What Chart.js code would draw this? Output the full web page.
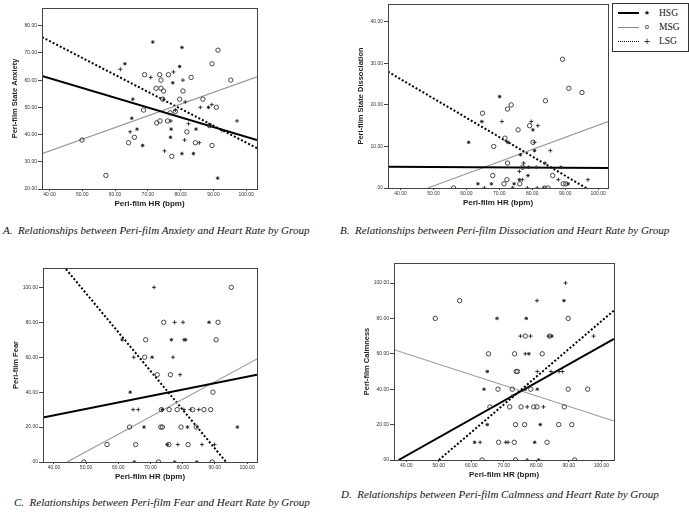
<!DOCTYPE html>
<html>
<head>
<meta charset="utf-8">
<script src="https://cdn.jsdelivr.net/npm/chart.js@4.4.0/dist/chart.umd.min.js"></script>
<style>
  body { margin: 0; background: #fff; width: 689px; height: 512px; position: relative; overflow: hidden; }
  .panel { position: absolute; }
  .cap { position: absolute; font: italic 11px "Liberation Serif", serif; color: #111; white-space: pre; }
  .legend { position: absolute; left: 612px; top: 3px; width: 75px; height: 47px; border: 1px solid #333; background: #fff;
            font: 9.5px "Liberation Serif", serif; color: #111; }
  .row { position: absolute; left: 0; width: 75px; height: 12px; }
  .row .ln { position: absolute; left: 5px; width: 21px; top: 6px; }
  .row .sym { position: absolute; left: 30px; top: 0; width: 8px; text-align: center; font: 7px "DejaVu Sans", sans-serif; line-height: 12px; }
  .row .tx { position: absolute; left: 46px; top: 0; line-height: 12px; }
</style>
</head>
<body>

<div class="panel" id="pA"><canvas id="cA"></canvas></div>
<div class="panel" id="pB"><canvas id="cB"></canvas></div>
<div class="panel" id="pC"><canvas id="cC"></canvas></div>
<div class="panel" id="pD"><canvas id="cD"></canvas></div>

<div class="legend">
  <div class="row" style="top:3px"><div class="ln" style="border-top:2px solid #000;top:5px"></div><div class="sym">&#9733;</div><div class="tx">HSG</div></div>
  <div class="row" style="top:17px"><div class="ln" style="border-top:1px solid #888"></div><div class="sym">o</div><div class="tx">MSG</div></div>
  <div class="row" style="top:31px"><div class="ln" style="border-top:1px dotted #000"></div><div class="sym" style="font-size:9px">+</div><div class="tx">LSG</div></div>
</div>

<div class="cap" style="left:3px;top:224px">A.  Relationships between Peri-film Anxiety and Heart Rate by Group</div>
<div class="cap" style="left:340px;top:224px">B.  Relationships between Peri-film Dissociation and Heart Rate by Group</div>
<div class="cap" style="left:14px;top:496px">C.  Relationships between Peri-film Fear and Heart Rate by Group</div>
<div class="cap" style="left:341px;top:488px">D.  Relationships between Peri-film Calmness and Heart Rate by Group</div>

<script>
// tick values
const xTicks = [40, 50, 60, 70, 80, 90, 100];
const yTicksA = [20, 30, 40, 50, 60, 70, 80];
const yTicksB = [0, 10, 20, 30, 40];
const yTicksCD = [0, 20, 40, 60, 80, 100];

// axis ranges [min, max]
const xRangeA = [37.7, 103.3], yRangeA = [20, 86.5];
const xRangeB = [36.2, 103.0], yRangeB = [0, 44.3];
const xRangeC = [36.6, 103.1], yRangeC = [0, 111.1];
const xRangeD = [36.2, 103.9], yRangeD = [0, 111.3];

// A. anxiety
const hsgA = [[71.5,74],[80.4,72],[63,66],[79.7,65],[77.6,59],[65.4,53],[65.1,46],[66.7,42],[68.4,36],[77.1,42],[76.9,39],[80.4,33],[83.9,33],[84.7,42],[88.5,50],[88.8,43.6],[91.3,24]];
const msgA = [[49.9,38],[57.2,25],[64.1,37],[65.9,39],[68.7,49],[69,62],[73.6,62],[76.3,62],[74,60],[72.5,57],[74,57],[74.8,56],[74.5,53],[72.7,44.3],[73.7,45],[76,45],[76.8,48],[78.4,48.5],[79.7,53],[80.7,56],[83.2,61],[81.9,41],[77.3,32],[84.5,37],[86.8,53],[88.8,43.3],[90.9,50],[89.6,66],[91.4,71],[95.3,60],[89.6,36]];
const lsgA = [[61.6,64],[70.9,61],[77.8,63],[80.7,60],[74.8,53],[64.6,41],[77,45],[75.1,34],[81.2,38],[82.4,44],[85.7,37],[86,50],[89.5,51],[92.6,41.5],[97.2,45],[81.4,52],[78.4,49]];
const fitHsgA = [[37.7,61.5],[103.3,38]];
const fitMsgA = [[37.7,33],[103.3,61.2]];
const fitLsgA = [[37.7,75.8],[103.3,35]];

// B. dissociation
const hsgB = [[70.1,22],[64.7,16],[60.7,11],[72.6,11],[80.2,14],[80.7,9],[76.4,8],[78.9,5],[78.7,3],[88.7,5],[76.1,2],[63.5,1],[67.6,1],[74.5,1],[90.9,1],[74,0]];
const msgB = [[89.2,31],[91.1,24],[95.1,23],[84,21],[73.6,20],[72.5,19],[64.9,18],[75.7,14],[79.2,15],[71.7,12],[68.3,10],[80.2,11],[72.5,6],[77.1,5],[68,3],[86.2,3],[72.3,2],[71.4,1],[76.2,1],[89.4,1],[90.2,1],[56.1,0],[83.8,0],[84.8,0]];
const lsgB = [[70.8,16],[79.7,16],[81.7,15],[80.7,11],[85.5,9],[77.4,6],[76.1,4],[81.2,5],[83.9,6],[87.9,2],[77,2],[96.9,2],[65.5,0],[78.5,0],[81.5,0],[83.5,0]];
const fitHsgB = [[36.2,5.1],[103,4.8]];
const fitMsgB = [[48.3,0],[103,16]];
const fitLsgB = [[36.2,28],[103,-3.1]];

// C. fear
const hsgC = [[88.2,80],[76.5,70],[80.9,70],[61.2,70],[70.5,60],[63.7,40],[73.7,30],[68,20],[81.5,20],[97,20],[75.2,10],[65,0],[77.5,0],[84.4,0]];
const msgC = [[95.1,100],[74.1,80],[91,80],[68.5,70],[90.4,70],[68.2,60],[72.1,50],[76.2,50],[89.4,40],[73.4,30],[75.8,30],[78.3,30],[83.1,30],[86.6,30],[88.7,30],[63.5,20],[73.2,20],[73.7,20],[79.5,20],[84.2,20],[56.5,10],[65.4,10],[75.7,10],[81.7,10],[49.3,0],[72.5,0],[89.2,0]];
const lsgC = [[71.1,100],[77.5,80],[80.1,80],[80.4,70],[64.8,60],[77,60],[79.2,50],[64.6,30],[66.2,30],[80.4,30],[82.4,30],[85,30],[78.5,10],[86,10],[89.9,10]];
const fitHsgC = [[36.6,25.5],[103.1,50]];
const fitMsgC = [[44.1,0],[103.1,59]];
const fitLsgC = [[36.6,126.3],[103.1,-21.3]];

// D. calmness
const hsgD = [[88.5,90],[67.9,80],[76.9,80],[84.8,70],[77.7,60],[64.9,50],[63.9,40],[80.3,40],[76.6,40],[72.6,36],[64.9,20],[81.2,20],[61,10],[79.5,10],[80.7,0]];
const msgD = [[56.4,90],[48.9,80],[89.8,80],[76.6,70],[84.1,70],[65.3,60],[73.3,60],[81.8,60],[73.8,50],[74.2,50],[68.2,40],[72.6,40],[78.3,40],[89.8,40],[95.8,40],[65.7,30],[71.8,30],[75.3,30],[79.2,30],[80.2,30],[88.6,30],[73.6,20],[76.4,20],[86.9,20],[90.9,20],[68.4,10],[73.2,10],[83.3,10],[63.3,0],[73.6,0],[91.8,0]];
const lsgD = [[89,100],[80.2,90],[75.1,70],[78.2,70],[83.8,70],[97.6,70],[76.6,60],[80.3,50],[84.5,50],[87,50],[88,50],[77.2,30],[82.2,30],[62.7,10],[70.6,10],[71.3,10],[77.2,0]];
const fitHsgD = [[37.6,0],[103.9,68.5]];
const fitMsgD = [[36.2,62.3],[103.9,22]];
const fitLsgD = [[50,0],[103.9,84.5]];

const Y_W = 42, X_H = 26, PAD_T = 5, PAD_R = 5;

function fmt(v) {
    const s = Number(v).toFixed(2);
    return s.startsWith('0') ? s.slice(1) : s;
}
function pts(arr) {
    return arr.map(p => ({ x: p[0], y: p[1] }));
}

const framePlugin = {
    id: 'frame',
    afterDatasetsDraw(chart) {
        const a = chart.chartArea, c = chart.ctx;
        c.save();
        c.strokeStyle = '#444';
        c.lineWidth = 1;
        c.strokeRect(Math.round(a.left) + 0.5, Math.round(a.top) + 0.5, Math.round(a.right - a.left), Math.round(a.bottom - a.top));
        c.restore();
    }
};

function makePanel(id, box, xRange, yRange, yTicks, yTitle, hsg, msg, lsg, fitH, fitM, fitL) {
    const w = box.r - box.l + Y_W + PAD_R;
    const h = box.b - box.t + PAD_T + X_H;
    const wrap = document.getElementById('p' + id);
    wrap.style.left = (box.l - Y_W) + 'px';
    wrap.style.top = (box.t - PAD_T) + 'px';
    const cv = document.getElementById('c' + id);
    cv.width = w; cv.height = h;
    cv.style.width = w + 'px'; cv.style.height = h + 'px';

    new Chart(cv.getContext('2d'), {
        type: 'scatter',
        data: {
            datasets: [
                { label: 'HSG', data: pts(hsg), pointStyle: 'star', pointRadius: 1.8, borderColor: '#222', backgroundColor: '#222', borderWidth: 0.9 },
                { label: 'MSG', data: pts(msg), pointStyle: 'circle', pointRadius: 2.2, borderColor: '#333', backgroundColor: 'rgba(0,0,0,0)', borderWidth: 0.9 },
                { label: 'LSG', data: pts(lsg), pointStyle: 'cross', pointRadius: 2, borderColor: '#222', backgroundColor: '#222', borderWidth: 0.9 },
                { label: 'HSG fit', data: pts(fitH), showLine: true, pointRadius: 0, borderColor: '#000', borderWidth: 2 },
                { label: 'MSG fit', data: pts(fitM), showLine: true, pointRadius: 0, borderColor: '#999', borderWidth: 1.1 },
                { label: 'LSG fit', data: pts(fitL), showLine: true, pointRadius: 0, borderColor: '#000', borderWidth: 2, borderDash: [2, 2] }
            ]
        },
        options: {
            responsive: false,
            animation: false,
            layout: { padding: { left: 0, top: PAD_T, right: PAD_R, bottom: 0 } },
            scales: {
                x: {
                    type: 'linear',
                    min: xRange[0],
                    max: xRange[1],
                    afterBuildTicks: (s) => { s.ticks = xTicks.map(v => ({ value: v })); },
                    afterFit: (s) => { s.height = X_H; },
                    ticks: {
                        callback: (v) => fmt(v),
                        font: { size: 5, family: 'Liberation Sans' },
                        color: '#333',
                        padding: 1,
                        maxRotation: 0
                    },
                    grid: { display: true, drawOnChartArea: false, drawTicks: true, tickLength: 2, color: '#444' },
                    border: { display: false },
                    title: {
                        display: true,
                        text: 'Peri-film HR (bpm)',
                        font: { size: 8, weight: 'bold', family: 'Liberation Sans' },
                        color: '#222',
                        padding: { top: 6.5, bottom: 6.5 }
                    }
                },
                y: {
                    type: 'linear',
                    min: yRange[0],
                    max: yRange[1],
                    afterBuildTicks: (s) => { s.ticks = yTicks.map(v => ({ value: v })); },
                    afterFit: (s) => { s.width = Y_W; },
                    ticks: {
                        callback: (v) => fmt(v),
                        font: { size: 5, family: 'Liberation Sans' },
                        color: '#333',
                        padding: 1
                    },
                    grid: { display: true, drawOnChartArea: false, drawTicks: true, tickLength: 4, color: '#444' },
                    border: { display: false },
                    title: {
                        display: true,
                        text: yTitle,
                        font: { size: 7.5, weight: 'bold', family: 'Liberation Sans' },
                        color: '#222',
                        padding: { top: 10, bottom: 10 }
                    }
                }
            },
            plugins: {
                legend: { display: false },
                tooltip: { enabled: false }
            }
        },
        plugins: [framePlugin]
    });
}

makePanel('A', { l: 42, t: 8, r: 257, b: 189 }, xRangeA, yRangeA, yTicksA, 'Peri-film State Anxiety', hsgA, msgA, lsgA, fitHsgA, fitMsgA, fitLsgA);
makePanel('B', { l: 388, t: 4, r: 608, b: 188 }, xRangeB, yRangeB, yTicksB, 'Peri-film State Dissociation', hsgB, msgB, lsgB, fitHsgB, fitMsgB, fitLsgB);
makePanel('C', { l: 43, t: 268, r: 257, b: 462 }, xRangeC, yRangeC, yTicksCD, 'Peri-film Fear', hsgC, msgC, lsgC, fitHsgC, fitMsgC, fitLsgC);
makePanel('D', { l: 394, t: 263, r: 614, b: 460 }, xRangeD, yRangeD, yTicksCD, 'Peri-film Calmness', hsgD, msgD, lsgD, fitHsgD, fitMsgD, fitLsgD);
</script>
</body>
</html>
